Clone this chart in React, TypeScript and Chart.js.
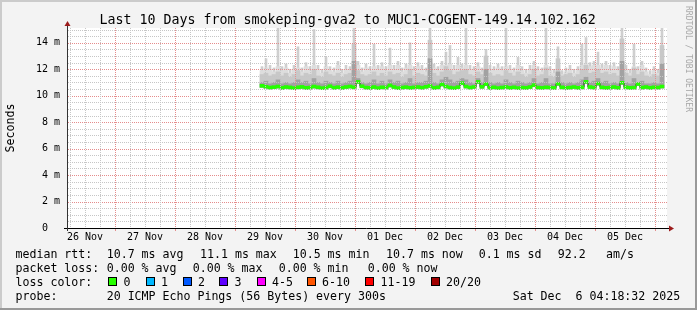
import React, { useEffect, useRef } from 'react';
import { Chart, registerables } from 'chart.js';

Chart.register(...registerables);

// ---- data (milliseconds), one column per 1.6 h, from 29 Nov 10:00 onwards ----
const medianRtt = [
  10.75, 10.68, 10.62, 10.65, 10.70, 10.60, 10.66, 10.63, 10.58, 10.64,
  10.67, 10.60, 10.62, 10.70, 10.64, 10.58, 10.62, 10.72, 10.61, 10.65,
  10.60, 10.66, 10.70, 10.64, 11.05, 10.72, 10.62, 10.60, 10.66, 10.58,
  10.64, 10.62, 10.78, 10.66, 10.58, 10.62, 10.65, 10.60, 10.63, 10.66,
  10.61, 10.68, 10.74, 10.60, 10.64, 10.86, 10.70, 10.62, 10.58, 10.65,
  10.95, 10.70, 10.62, 10.66, 11.05, 10.68, 10.88, 10.60, 10.64, 10.58,
  10.62, 10.66, 10.60, 10.64, 10.58, 10.62, 10.60, 10.66, 10.80, 10.62,
  10.60, 10.64, 10.62, 10.60, 10.90, 10.64, 10.60, 10.62, 10.66, 10.60,
  10.64, 11.05, 10.66, 10.62, 10.92, 10.64, 10.60, 10.62, 10.66, 10.60,
  10.98, 10.64, 10.60, 10.62, 10.88, 10.62, 10.66, 10.60, 10.64, 10.62,
  10.70,
];
const innerRtt = [
  11.0, 11.1, 10.9, 11.0, 11.2, 10.9, 11.0, 10.9, 11.0, 11.2,
  11.0, 11.1, 10.9, 11.3, 11.0, 10.9, 11.1, 11.0, 10.9, 11.1,
  10.9, 11.0, 11.1, 12.6, 11.3, 11.0, 10.9, 11.0, 11.2, 10.9,
  11.1, 10.9, 11.2, 11.0, 11.1, 10.9, 11.0, 11.3, 10.9, 11.0,
  11.0, 11.1, 12.8, 11.0, 10.9, 11.2, 11.4, 11.2, 11.0, 11.1,
  11.3, 11.2, 11.0, 10.9, 11.3, 11.0, 12.0, 11.0, 10.9, 11.0,
  10.9, 11.2, 11.0, 10.9, 11.1, 11.0, 10.9, 11.0, 11.3, 10.9,
  11.0, 11.3, 10.9, 10.9, 11.8, 11.0, 10.9, 11.0, 10.9, 11.0,
  11.2, 11.4, 11.0, 11.1, 11.3, 11.0, 11.1, 10.9, 11.0, 10.9,
  12.6, 11.0, 10.9, 11.3, 11.0, 11.1, 10.9, 10.9, 11.0, 10.9,
  12.4,
];
const upperRtt = [
  11.6, 11.7, 11.5, 11.6, 11.8, 11.5, 11.7, 11.4, 11.6, 11.9,
  11.5, 11.7, 11.6, 12.0, 11.5, 11.4, 11.8, 11.6, 11.5, 11.7,
  11.4, 11.6, 11.7, 13.9, 11.9, 11.6, 11.5, 11.6, 11.8, 11.5,
  11.7, 11.5, 11.8, 11.6, 11.7, 11.4, 11.6, 12.0, 11.5, 11.7,
  11.6, 11.5, 14.2, 11.7, 11.5, 11.8, 12.2, 11.9, 11.6, 11.8,
  11.9, 12.0, 11.6, 11.5, 11.8, 11.6, 13.0, 11.7, 11.5, 11.6,
  11.5, 11.9, 11.7, 11.5, 11.8, 11.6, 11.4, 11.6, 12.0, 11.5,
  11.6, 12.1, 11.5, 11.4, 12.8, 11.5, 11.6, 11.7, 11.4, 11.6,
  12.0, 12.3, 11.7, 11.8, 12.0, 11.7, 11.8, 11.6, 11.7, 11.5,
  14.3, 11.7, 11.5, 12.1, 11.6, 11.8, 11.5, 11.4, 11.6, 11.5,
  13.8,
];
const p90Rtt = [
  11.9, 12.1, 12.0, 11.8, 12.2, 11.9, 12.1, 11.7, 12.0, 12.1,
  11.8, 12.2, 11.9, 12.3, 12.0, 11.7, 12.2, 11.9, 11.8, 12.3,
  11.7, 12.0, 11.9, 12.4, 12.3, 11.8, 12.1, 11.9, 12.2, 12.0,
  12.2, 11.9, 12.3, 12.0, 12.3, 11.8, 12.1, 12.3, 11.9, 12.2,
  12.0, 11.8, 12.5, 12.1, 11.9, 12.3, 12.3, 12.4, 12.0, 12.3,
  12.1, 12.3, 12.0, 11.9, 12.2, 11.8, 12.3, 12.0, 11.9, 12.1,
  11.9, 12.2, 12.0, 11.8, 12.3, 11.9, 11.7, 12.0, 12.3, 11.9,
  11.8, 12.3, 11.9, 11.7, 12.3, 11.6, 11.8, 12.0, 11.7, 11.9,
  12.3, 12.4, 12.2, 12.3, 12.3, 12.1, 12.3, 12.0, 12.2, 11.9,
  12.4, 12.0, 11.7, 12.2, 11.9, 12.3, 11.8, 11.6, 11.9, 11.7,
  12.2,
];
const maxRtt = [
  12.2, 12.8, 12.3, 12.1, 15.2, 12.2, 12.4, 12.0, 12.3, 13.7,
  12.1, 12.5, 12.2, 15.0, 12.3, 12.0, 12.9, 12.2, 12.1, 12.6,
  12.0, 12.3, 12.2, 15.2, 12.6, 12.1, 12.4, 12.2, 13.9, 12.3,
  12.5, 12.2, 13.6, 12.3, 12.6, 12.1, 12.4, 14.0, 12.2, 12.5,
  12.3, 12.1, 15.2, 12.4, 12.2, 12.6, 13.3, 13.8, 12.3, 12.9,
  12.4, 15.2, 12.3, 12.2, 12.5, 12.1, 13.5, 12.3, 12.2, 12.4,
  12.2, 15.2, 12.3, 12.1, 12.9, 12.2, 12.0, 12.3, 12.6, 12.2,
  12.1, 15.2, 12.2, 12.0, 13.7, 11.9, 12.1, 12.3, 12.0, 12.2,
  13.9, 14.4, 12.5, 12.6, 13.3, 12.4, 12.6, 12.3, 12.5, 12.2,
  15.2, 12.3, 12.0, 13.9, 12.2, 12.6, 12.1, 11.9, 12.2, 12.0,
  15.2,
];

// time axis: hours since 26 Nov 00:00
const AXIS_START_H = 4.8;
const AXIS_END_H = 244.8;
const FIRST_COLUMN_H = 82.0;
const COLUMN_H = 1.6;
const columnHours = medianRtt.map((_, i) => FIRST_COLUMN_H + COLUMN_H * (i + 0.5));

const dayLabels = ['26 Nov', '27 Nov', '28 Nov', '29 Nov', '30 Nov', '01 Dec', '02 Dec', '03 Dec', '04 Dec', '05 Dec'];
const xTickHours = [6, 12, 18, 24, 30, 36, 42, 48, 54, 60, 66, 72, 78, 84, 90, 96, 102, 108, 114, 120, 126, 132, 138, 144, 150, 156, 162, 168, 174, 180, 186, 192, 198, 204, 210, 216, 222, 228, 234, 240];
const yTickValues = [0, 0.5, 1, 1.5, 2, 2.5, 3, 3.5, 4, 4.5, 5, 5.5, 6, 6.5, 7, 7.5, 8, 8.5, 9, 9.5, 10, 10.5, 11, 11.5, 12, 12.5, 13, 13.5, 14, 14.5, 15];
const yMajorValues = [0, 2, 4, 6, 8, 10, 12, 14];
const yMajorLabels = ['0  ', '2 m', '4 m', '6 m', '8 m', '10 m', '12 m', '14 m'];

const titleText = 'Last 10 Days from smokeping-gva2 to MUC1-COGENT-149.14.102.162';
const rttStats = ['10.7 ms avg', '11.1 ms max', '10.5 ms min', '10.7 ms now', '0.1 ms sd', '92.2', 'am/s'];
const rttStatX = [106.7, 200, 292.7, 386, 478.7, 557.7, 606];
const lossStats = ['0.00 % avg', '0.00 % max', '0.00 % min', '0.00 % now'];
const lossStatX = [106.7, 192.7, 278.7, 367.7];
const lossLabels = ['0', '1', '2', '3', '4-5', '6-10', '11-19', '20/20'];
const lossColors = ['#26ff00', '#00b8ff', '#0059ff', '#5e00ff', '#ff00ff', '#ff5500', '#ff0000', '#a10000'];
const lossSquareX = [108, 145.5, 182.5, 219, 256.5, 306.5, 365, 430.5];
const probeText = '20 ICMP Echo Pings (56 Bytes) every 300s';
const dateText = 'Sat Dec  6 04:18:32 2025';

const MONO = '"DejaVu Sans Mono", monospace';
const MAJOR_GRID = '#e58c8c';
const MINOR_GRID = '#c6c6c6';

const framePlugin = {
  id: 'rrdFrame',
  beforeDraw(chart: any) {
    const { ctx, chartArea: a, width, height } = chart;
    ctx.save();
    ctx.fillStyle = '#f3f3f3';
    ctx.fillRect(0, 0, width, height);
    ctx.fillStyle = '#ffffff';
    ctx.fillRect(a.left, a.top, a.right - a.left, a.bottom - a.top);
    ctx.restore();
  },
  afterDatasetsDraw(chart: any) {
    // dotted rrdtool-style grid drawn over the smoke
    const { ctx, chartArea: a, scales } = chart;
    const xs = scales.x;
    const ys = scales.y;
    const top = Math.round(a.top);
    const bottom = Math.round(a.bottom);
    const left = Math.round(a.left);
    const right = Math.round(a.right);
    ctx.save();
    for (const v of yTickValues) {
      if (v === 0) continue;
      const py = Math.round(ys.getPixelForValue(v));
      ctx.fillStyle = v % 2 === 0 ? MAJOR_GRID : MINOR_GRID;
      for (let px = left + 1; px < right; px += 2) ctx.fillRect(px, py, 1, 1);
    }
    for (const v of xTickHours) {
      const px = Math.round(xs.getPixelForValue(v));
      const major = v % 24 === 0;
      ctx.fillStyle = major ? MAJOR_GRID : MINOR_GRID;
      for (let py = top; py < bottom; py += 2) ctx.fillRect(px, py, 1, 1);
      if (major) ctx.fillRect(px, bottom + 1, 1, 2);
    }
    ctx.restore();
  },
  afterDraw(chart: any) {
    const { ctx, chartArea: a, width, height } = chart;
    ctx.save();
    ctx.strokeStyle = '#000000';
    ctx.lineWidth = 1;
    ctx.beginPath();
    ctx.moveTo(a.left - 3, a.bottom + 0.5);
    ctx.lineTo(a.right + 2, a.bottom + 0.5);
    ctx.stroke();
    ctx.strokeStyle = '#333333';
    ctx.beginPath();
    ctx.moveTo(a.left + 0.5, a.bottom + 3);
    ctx.lineTo(a.left + 0.5, a.top - 2);
    ctx.stroke();
    ctx.fillStyle = '#9c1c1c';
    ctx.beginPath();
    ctx.moveTo(a.right + 7, a.bottom + 0.5);
    ctx.lineTo(a.right + 2, a.bottom - 2.5);
    ctx.lineTo(a.right + 2, a.bottom + 3.5);
    ctx.closePath();
    ctx.fill();
    ctx.beginPath();
    ctx.moveTo(a.left + 0.5, a.top - 7);
    ctx.lineTo(a.left - 2.5, a.top - 2);
    ctx.lineTo(a.left + 3.5, a.top - 2);
    ctx.closePath();
    ctx.fill();
    // shaded frame
    ctx.fillStyle = '#cbcbcb';
    ctx.fillRect(0, 0, width, 2);
    ctx.fillRect(0, 0, 2, height);
    ctx.fillStyle = '#999999';
    ctx.fillRect(0, height - 2, width, 2);
    ctx.fillRect(width - 2, 0, 2, height);
    ctx.restore();
  },
};

export default function App() {
  const canvasRef = useRef<HTMLCanvasElement | null>(null);

  useEffect(() => {
    document.body.style.margin = '0';
    const canvas = canvasRef.current;
    if (!canvas) return;

    const layer = (top: number[]) =>
      top.map((t, i) => ({ x: columnHours[i], y: [medianRtt[i] - 0.12, t] }));

    const barCommon = {
      type: 'bar' as const,
      grouped: false,
      barPercentage: 1,
      categoryPercentage: 1,
      borderWidth: 0,
      clip: 0,
    };

    const chart = new Chart(canvas, {
      type: 'bar',
      data: {
        datasets: [
          { ...barCommon, label: 'max', data: layer(maxRtt), backgroundColor: '#cfcfcf', maxBarThickness: 2, order: 11 },
          { ...barCommon, label: 'p90', data: layer(p90Rtt), backgroundColor: '#dddddd', order: 10 },
          { ...barCommon, label: 'upper', data: layer(upperRtt), backgroundColor: '#c8c8c8', order: 9 },
          { ...barCommon, label: 'inner', data: layer(innerRtt), backgroundColor: '#a2a2a2', order: 8 },
          {
            type: 'line',
            label: 'median line',
            data: medianRtt.map((m, i) => ({ x: columnHours[i], y: m })),
            borderColor: '#202020',
            borderWidth: 1,
            pointRadius: 0,
            stepped: 'middle',
            fill: false,
            clip: 0,
            order: 7,
          } as any,
          {
            ...barCommon,
            label: 'median',
            data: medianRtt.map((m, i) => ({ x: columnHours[i], y: [m - 0.11, m + 0.11] })),
            backgroundColor: '#26ff00',
            order: 6,
          },
        ] as any,
      },
      options: {
        animation: false,
        responsive: false,
        devicePixelRatio: 1,
        events: [],
        layout: { padding: { left: 0, top: 28, right: 30, bottom: 0 } },
        plugins: {
          legend: { display: false },
          tooltip: { enabled: false },
          title: { display: false },
        },
        scales: {
          x: {
            type: 'linear',
            position: 'bottom',
            min: AXIS_START_H,
            max: AXIS_END_H,
            offset: false,
            afterBuildTicks: (s: any) => {
              s.ticks = xTickHours.map((v) => ({ value: v }));
            },
            afterFit: (s: any) => {
              s.height = 82;
            },
            grid: { display: false, offset: false, drawTicks: true, tickLength: 2 },
            border: { display: false },
            ticks: {
              autoSkip: false,
              maxRotation: 0,
              minRotation: 0,
              padding: 1.5,
              color: '#000000',
              font: { family: MONO, size: 10 },
              callback: (v: any) => (v % 24 === 12 ? dayLabels[Math.floor(v / 24)] : ''),
            },
          },
          y: {
            type: 'linear',
            min: 0,
            max: 15.12,
            afterBuildTicks: (s: any) => {
              s.ticks = yTickValues.map((v) => ({ value: v }));
            },
            afterFit: (s: any) => {
              s.width = 67;
            },
            grid: { display: false, drawTicks: false },
            border: { display: false },
            ticks: {
              autoSkip: false,
              padding: 7,
              color: '#000000',
              font: { family: MONO, size: 10 },
              callback: (v: any) => {
                const k = yMajorValues.indexOf(v);
                return k >= 0 ? yMajorLabels[k] : '';
              },
            },
          },
        },
      } as any,
      plugins: [framePlugin],
    });

    return () => chart.destroy();
  }, []);

  const legendFont: React.CSSProperties = {
    position: 'absolute',
    fontFamily: MONO,
    fontSize: '11.6px',
    lineHeight: '14px',
    whiteSpace: 'pre',
    color: '#000',
  };
  const rowTop = [247.3, 261.3, 275.1, 288.9];

  return (
    <div style={{ position: 'relative', width: 697, height: 310, overflow: 'hidden', background: '#f3f3f3' }}>
      <canvas ref={canvasRef} width={697} height={310} style={{ position: 'absolute', left: 0, top: 0, width: 697, height: 310 }} />
      <div style={{ ...legendFont, fontSize: '13.3px', lineHeight: '15px', left: 99.5, top: 12 }}>{titleText}</div>
      <div
        style={{
          ...legendFont,
          left: 10.3 - 40,
          top: 127.5 - 7,
          width: 80,
          textAlign: 'center',
          transform: 'rotate(-90deg)',
          transformOrigin: '50% 50%',
        }}
      >
        Seconds
      </div>
      <div
        style={{
          ...legendFont,
          fontSize: '8px',
          lineHeight: '10px',
          color: '#a8a8a8',
          left: 688 - 60,
          top: 58.5 - 5,
          width: 120,
          textAlign: 'center',
          transform: 'rotate(90deg)',
          transformOrigin: '50% 50%',
        }}
      >
        RRDTOOL / TOBI OETIKER
      </div>

      <div style={{ ...legendFont, left: 15.5, top: rowTop[0] }}>median rtt:</div>
      {rttStats.map((t, i) => (
        <div key={'r' + i} style={{ ...legendFont, left: rttStatX[i], top: rowTop[0] }}>{t}</div>
      ))}

      <div style={{ ...legendFont, left: 15.5, top: rowTop[1] }}>packet loss:</div>
      {lossStats.map((t, i) => (
        <div key={'l' + i} style={{ ...legendFont, left: lossStatX[i], top: rowTop[1] }}>{t}</div>
      ))}

      <div style={{ ...legendFont, left: 15.5, top: rowTop[2] }}>loss color:</div>
      {lossLabels.map((t, i) => (
        <React.Fragment key={'c' + i}>
          <div
            style={{
              position: 'absolute',
              left: lossSquareX[i],
              top: 277,
              width: 9,
              height: 9,
              boxSizing: 'border-box',
              border: '1px solid #000',
              background: lossColors[i],
            }}
          />
          <div style={{ ...legendFont, left: lossSquareX[i] + 15.5, top: rowTop[2] }}>{t}</div>
        </React.Fragment>
      ))}

      <div style={{ ...legendFont, left: 15.5, top: rowTop[3] }}>probe:</div>
      <div style={{ ...legendFont, left: 106.7, top: rowTop[3] }}>{probeText}</div>
      <div style={{ ...legendFont, left: 512.7, top: rowTop[3] }}>{dateText}</div>
    </div>
  );
}
